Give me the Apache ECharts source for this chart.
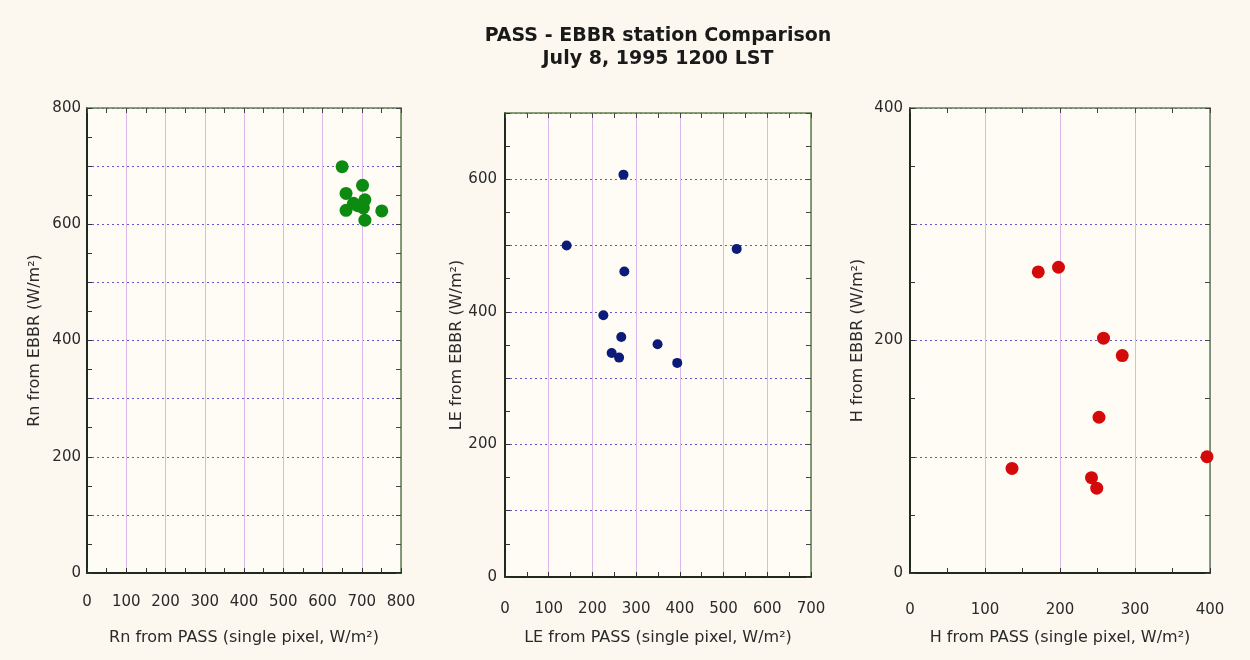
<!DOCTYPE html>
<html>
<head>
<meta charset="utf-8">
<script src="https://cdn.jsdelivr.net/npm/echarts@6/dist/echarts.min.js"></script>
<style>
html,body{margin:0;padding:0;background:#fcf8ef;}
#c{width:1250px;height:660px;}
</style>
</head>
<body>
<div id="c"></div>
<script>
// ---- data ----
const titleLines = ["PASS - EBBR station Comparison", "July 8, 1995 1200 LST"];
const rnPass = [650, 702, 660, 708, 660, 679, 751, 708, 704, 690];
const rnEbbr = [699, 667, 653, 642, 624, 636, 623, 607, 628, 632];
const lePass = [141, 271, 530, 273, 225, 266, 244, 261, 349, 394];
const leEbbr = [500, 607, 495, 461, 395, 362, 338, 331, 351, 323];
const hPass = [171, 198, 258, 283, 252, 136, 396, 242, 249];
const hEbbr = [259, 263, 202, 187, 134, 90, 100, 82, 73];
const xNames = ["Rn from PASS (single pixel, W/m\u00B2)", "LE from PASS (single pixel, W/m\u00B2)", "H from PASS (single pixel, W/m\u00B2)"];
const yNames = ["Rn from EBBR (W/m\u00B2)", "LE from EBBR (W/m\u00B2)", "H from EBBR (W/m\u00B2)"];
const axisMax = [800, 700, 400];
const yLabelStep = 200;

const FONT = "DejaVu Sans";
const TXT = "#2a2a2a";
const grids = [
  {left: 87, top: 108, width: 314, height: 465},
  {left: 505, top: 113, width: 306, height: 464},
  {left: 910, top: 108, width: 300, height: 465}
];
const xLabelMargin = [22, 25, 30];
const xNameGap = [57, 53, 57];
const yNameGap = [44, 31, 44];
const yLabelMargin = [6, 8, 7];
const symSize = [13, 10, 13];
const colors = ["#0d8a10", "#0c1a78", "#d40a0a"];

const xAxes = [], yAxes = [];
grids.forEach((g, i) => {
  const max = axisMax[i];
  xAxes.push({
    type: 'value', gridIndex: i, min: 0, max: max, interval: 100, position: 'bottom',
    axisLine: {show: true, onZero: false, lineStyle: {color: '#1f2a1f', width: 2}},
    axisTick: {show: true, inside: true, length: 5, lineStyle: {color: '#333'}},
    minorTick: {show: true, splitNumber: 2, length: 5, lineStyle: {color: '#333'}},
    axisLabel: {margin: xLabelMargin[i], fontFamily: FONT, fontSize: 15, color: TXT},
    splitLine: {show: true, lineStyle: {color: '#dcb8ec', width: 1, type: 'solid'}},
    name: xNames[i], nameLocation: 'middle', nameGap: xNameGap[i],
    nameTextStyle: {fontFamily: FONT, fontSize: 16, color: TXT}
  });
  xAxes.push({
    type: 'value', gridIndex: i, min: 0, max: max, interval: 100, position: 'top',
    axisLine: {show: true, onZero: false, lineStyle: {color: '#5f7f4f', width: 1.5}},
    axisTick: {show: true, inside: true, length: 5, lineStyle: {color: '#444'}},
    minorTick: {show: true, splitNumber: 2, length: 5, lineStyle: {color: '#444'}},
    axisLabel: {show: false}, splitLine: {show: false}
  });
  yAxes.push({
    type: 'value', gridIndex: i, min: 0, max: max, interval: 100, position: 'left',
    axisLine: {show: true, onZero: false, lineStyle: {color: '#1f2a1f', width: 2}},
    axisTick: {show: true, inside: true, length: 5, lineStyle: {color: '#333'}},
    minorTick: {show: true, splitNumber: 2, length: 5, lineStyle: {color: '#333'}},
    axisLabel: {margin: yLabelMargin[i], fontFamily: FONT, fontSize: 15, color: TXT,
      formatter: v => (v % yLabelStep === 0 ? String(v) : '')},
    splitLine: {show: true, lineStyle: {color: '#6257c8', width: 1.2, type: [2, 3]}},
    name: yNames[i], nameLocation: 'middle', nameGap: yNameGap[i], nameRotate: 90,
    nameTextStyle: {fontFamily: FONT, fontSize: 16, color: TXT}
  });
  yAxes.push({
    type: 'value', gridIndex: i, min: 0, max: max, interval: 100, position: 'right',
    axisLine: {show: true, onZero: false, lineStyle: {color: '#5f7f4f', width: 1.5}},
    axisTick: {show: true, inside: true, length: 5, lineStyle: {color: '#444'}},
    minorTick: {show: true, splitNumber: 2, length: 5, lineStyle: {color: '#444'}},
    axisLabel: {show: false}, splitLine: {show: false}
  });
});

const pairs = [[rnPass, rnEbbr], [lePass, leEbbr], [hPass, hEbbr]];
const series = pairs.map((p, i) => ({
  type: 'scatter', xAxisIndex: 2 * i, yAxisIndex: 2 * i,
  data: p[0].map((x, k) => [x, p[1][k]]),
  symbol: 'circle', symbolSize: symSize[i],
  itemStyle: {color: colors[i], opacity: 1},
  emphasis: {disabled: true}, z: 5
}));

const chart = echarts.init(document.getElementById('c'), null, {renderer: 'canvas'});
chart.setOption({
  backgroundColor: '#fcf8ef',
  animation: false,
  title: [
    {text: titleLines[0], left: 653, top: 22, textAlign: 'center',
     textStyle: {fontFamily: FONT, fontSize: 19, fontWeight: 'bold', color: '#1a1a1a'}},
    {text: titleLines[1], left: 653, top: 45, textAlign: 'center',
     textStyle: {fontFamily: FONT, fontSize: 19, fontWeight: 'bold', color: '#1a1a1a'}}
  ],
  grid: grids.map(g => Object.assign({containLabel: false, backgroundColor: '#fffcf5', show: true, borderWidth: 0}, g)),
  xAxis: xAxes,
  yAxis: yAxes,
  series: series
});
</script>
</body>
</html>
